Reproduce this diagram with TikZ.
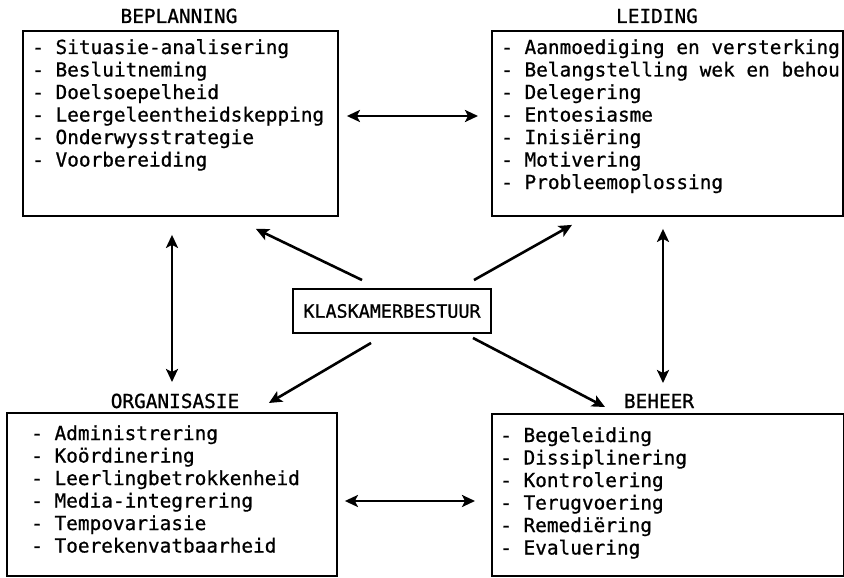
\documentclass[tikz,border=0pt]{standalone}
\usepackage{fontspec}
\newfontfamily\typefont[FakeBold=0.8]{DejaVu Sans Mono}
\usetikzlibrary{arrows.meta,calc}

\begin{document}
\begin{tikzpicture}[x=1pt,y=-1pt,
  box/.style={draw, line width=1.9pt, rectangle, inner sep=0pt, anchor=north west},
  item/.style={font=\typefont\fontsize{19.4}{22.5}\selectfont, inner sep=0pt, anchor=base west},
  heading/.style={item, anchor=base},
  centrebox/.style={draw, line width=1.9pt, rectangle, inner sep=0pt,
    minimum width=198pt, minimum height=44pt, font=\typefont\fontsize{18.4}{22}\selectfont},
  tip/.tip={Stealth[length=13pt,width=12pt,inset=3pt]},
  link/.style={line width=2.6pt, -tip},
  twoway/.style={line width=2.6pt, tip-tip}]

  \fill[white] (0,0) rectangle (844,578);
  \useasboundingbox (0,0) rectangle (844,578);

  % the four outer boxes
  \node[box, minimum width=315pt, minimum height=185pt] (bp) at (22,30) {};
  \node[box, minimum width=351pt, minimum height=185pt] (ld) at (491,30) {};
  \node[box, minimum width=330pt, minimum height=163pt] (org) at (6,412) {};
  \node[box, minimum width=352pt, minimum height=162pt] (bh) at (491,413) {};

  % headings
  \node[heading] (bpt) at (179,23) {BEPLANNING};
  \node[heading] (ldt) at (657,23) {LEIDING};
  \node[heading] (orgt) at (175,408) {ORGANISASIE};
  \node[heading] (bht) at (659,408) {BEHEER};

  % central box
  \node[centrebox] (kb) at (392,311) {KLASKAMERBESTUUR};

  % lists
  \foreach \t [count=\i] in {Situasie-analisering, Besluitneming, Doelsoepelheid,
      Leergeleentheidskepping, Onderwysstrategie, Voorbereiding}
    \node[item] (bp\i) at (32,{54+22.5*(\i-1)}) {- \t};
  \foreach \t [count=\i] in {Aanmoediging en versterking, Belangstelling wek en behou,
      Delegering, Entoesiasme, Inisiëring, Motivering, Probleemoplossing}
    \node[item] (ld\i) at (501,{54+22.5*(\i-1)}) {- \t};
  \foreach \t [count=\i] in {Administrering, Koördinering, Leerlingbetrokkenheid,
      Media-integrering, Tempovariasie, Toerekenvatbaarheid}
    \node[item] (org\i) at (31,{440+22.5*(\i-1)}) {- \t};
  \foreach \t [count=\i] in {Begeleiding, Dissiplinering, Kontrolering,
      Terugvoering, Remediëring, Evaluering}
    \node[item] (bh\i) at (500,{442+22.5*(\i-1)}) {- \t};

  % links between neighbouring boxes
  \draw[twoway] ($(bp.north east)+(8,86)$) -- ($(ld.north west)+(-13,86)$);
  \draw[twoway] ($(org.north east)+(7,89)$) -- ($(bh.north west)+(-16,88)$);
  \draw[twoway] ($(bp.south west)+(150,18)$) -- ($(org.north west)+(166,-30)$);
  \draw[twoway] ($(ld.south west)+(172,12)$) -- ($(bh.north west)+(172,-30)$);

  % links from the centre
  \draw[link] ($(kb.north west)+(70,-8)$) -- ($(bp.south east)+(-83,12)$);
  \draw[link] ($(kb.north east)+(-18,-8)$) -- ($(ld.south west)+(81,8)$);
  \draw[link] ($(kb.south west)+(79,9)$) -- ($(org.north east)+(-69,-9)$);
  \draw[link] ($(kb.south east)+(-19,4)$) -- ($(bh.north west)+(114,-6)$);
\end{tikzpicture}
\end{document}
